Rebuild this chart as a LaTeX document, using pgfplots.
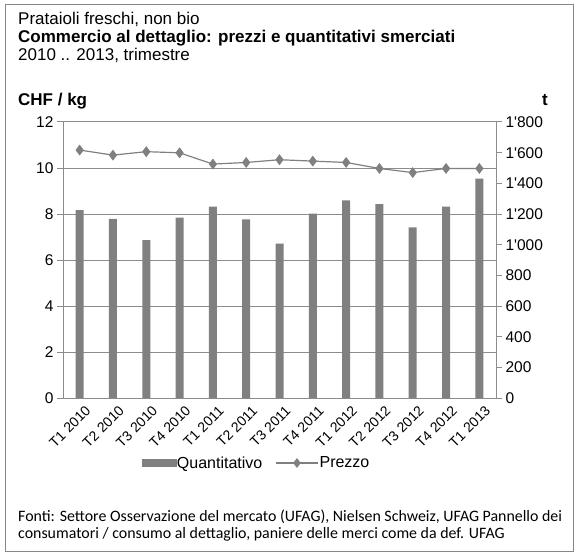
\documentclass[border=0pt]{standalone}
\usepackage{pgfplots}
\pgfplotsset{compat=1.18}
\usepackage{fontspec}
\setmainfont{Liberation Sans}
\newfontfamily\calibri{Carlito}
\definecolor{barg}{HTML}{808080}
\definecolor{gridg}{HTML}{8C8C8C}
\definecolor{frameg}{HTML}{868686}
\begin{document}
\begin{tikzpicture}[x=1pt,y=1pt]
\useasboundingbox (0,0) rectangle (578,-556);
\draw[frameg,line width=1pt] (5,-5) rectangle (573,-551);
\pgfplotsset{
  base/.style={
    scale only axis, width=433pt, height=276pt,
    at={(63pt,-398pt)}, anchor=south west,
    xmin=-0.5, xmax=12.5,
    /pgf/number format/assume math mode=true,
    tick label style={font=\fontsize{15.5}{18}\selectfont, text=black},
    axis line style={gridg, line width=1pt},
    major tick style={gridg, line width=1pt},
    minor tick style={gridg, line width=1pt},
    tick align=outside,
  }
}
% left axis with grid
\begin{axis}[base,
  axis y line*=left, axis x line*=bottom,
  ymin=0, ymax=12, ytick={0,2,...,12},
  major tick length=6pt,
  ymajorgrids, grid style={gridg, line width=1pt},
  xtick={0,...,12},
  xticklabels={T1 2010,T2 2010,T3 2010,T4 2010,T1 2011,T2 2011,T3 2011,T4 2011,T1 2012,T2 2012,T3 2012,T4 2012,T1 2013},
  x tick label style={rotate=45, anchor=north east, inner sep=1pt, xshift=4pt, yshift=-3pt,
    font=\fontsize{14}{16}\selectfont},
  xtick style={draw=none},
  minor xtick={-0.5,0.5,...,12.5},
  minor tick length=6pt,
]
\end{axis}
% right axis with bars
\begin{axis}[base,
  axis y line*=right, axis x line=none,
  ymin=0, ymax=1800, ytick={0,200,...,1800},
  major tick length=6pt,
  /pgf/number format/1000 sep={\textquotesingle},
  ybar, bar width=8pt,
]
\addplot[fill=barg, draw=none] coordinates {
(0,1226) (1,1169) (2,1030) (3,1176) (4,1248) (5,1165) (6,1006)
(7,1202) (8,1289) (9,1265) (10,1113) (11,1248) (12,1430)};
\end{axis}
% price line
\begin{axis}[base, hide axis, ymin=0, ymax=12,
  legend style={at={(0.4457,-0.2355)}, anchor=center, draw=none, fill=none,
    legend columns=2, font=\fontsize{16}{18}\selectfont,
    /tikz/every odd column/.append style={column sep=0pt},
    /tikz/every even column/.append style={column sep=12pt},
    nodes={inner sep=1pt}},
  legend cell align=left,
]
\addlegendimage{legend image code/.code={\fill[barg] (0pt,-3.5pt) rectangle (34pt,3.5pt);}}
\addlegendentry{Quantitativo}
\addplot[color=barg, line width=1.2pt, mark=diamond*, mark size=4.5pt,
  mark options={fill=barg, draw=barg},
  legend image code/.code={\draw[barg,line width=1.2pt] (0pt,0pt) -- (42pt,0pt);
    \fill[barg] (21pt,0pt) +(0,4pt) -- +(3pt,0) -- +(0,-4pt) -- +(-3pt,0) -- cycle;}] coordinates {
(0,10.78) (1,10.56) (2,10.71) (3,10.66) (4,10.17) (5,10.24) (6,10.36)
(7,10.30) (8,10.24) (9,9.98) (10,9.80) (11,9.98) (12,9.98)};
\addlegendentry{Prezzo}
\end{axis}
\node[anchor=base west, inner sep=0pt, font=\fontsize{17}{19}\selectfont] at (18,-25) {Prataioli freschi, non bio};
\node[anchor=base west, inner sep=0pt, font=\fontsize{17}{19}\selectfont\bfseries] at (18,-43) {Commercio al dettaglio: prezzi e quantitativi smerciati};
\node[anchor=base west, inner sep=0pt, font=\fontsize{17}{19}\selectfont] at (18,-61) {2010 .. 2013, trimestre};
\node[anchor=base west, inner sep=0pt, font=\fontsize{17}{19}\selectfont\bfseries] at (18,-106) {CHF / kg};
\node[anchor=base east, inner sep=0pt, font=\fontsize{17}{19}\selectfont\bfseries] at (548,-106) {t};
\node[anchor=base west, inner sep=0pt, font=\calibri\fontsize{15.9}{18}\selectfont] at (18,-521) {Fonti: Settore Osservazione del mercato (UFAG), Nielsen Schweiz, UFAG Pannello dei};
\node[anchor=base west, inner sep=0pt, font=\calibri\fontsize{15.9}{18}\selectfont] at (18,-538) {consumatori / consumo al dettaglio, paniere delle merci come da def. UFAG};
\end{tikzpicture}
\end{document}
